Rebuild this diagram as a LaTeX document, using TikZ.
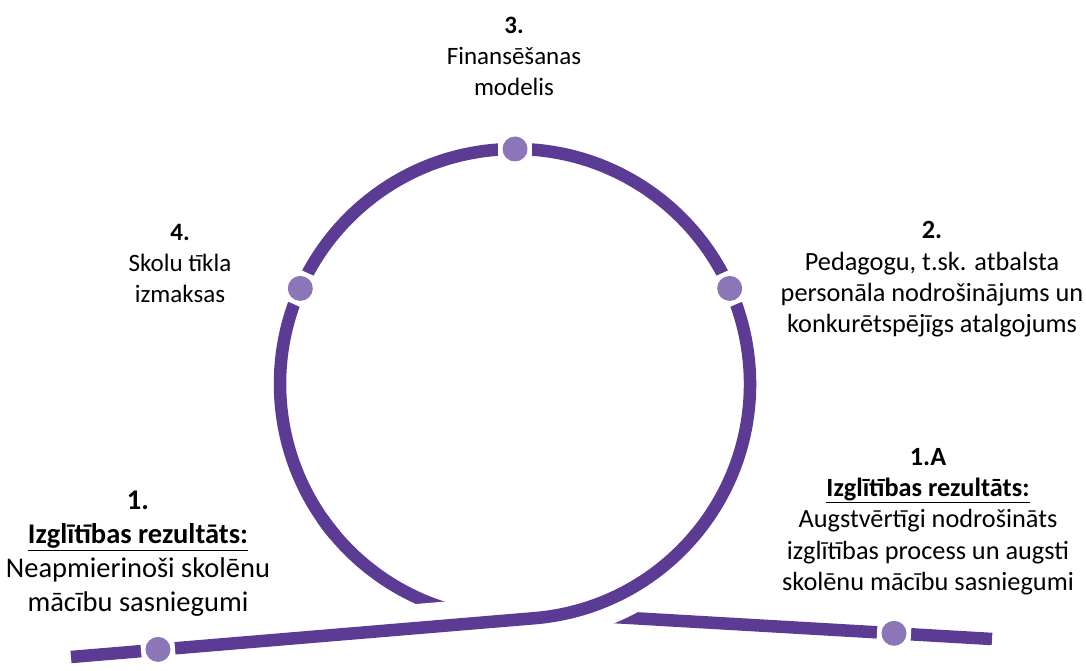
\documentclass[tikz,border=0pt]{standalone}
\usepackage{fontspec}
\setmainfont{Carlito}
\definecolor{loopcol}{HTML}{5C3B94}
\definecolor{dotcol}{HTML}{8C76B8}
\begin{document}
\begin{tikzpicture}[x=1pt,y=1pt,
  strand/.style={draw=loopcol, line width=12.5pt, line cap=butt},
  gapstroke/.style={draw=white, line width=48pt, line cap=butt},
  beadgap/.style={rectangle, fill=white, minimum width=34pt, minimum height=18pt, inner sep=0pt},
  bead/.style={circle, fill=dotcol, minimum size=25pt, inner sep=0pt},
  lbl/.style={align=center, font=\fontsize{25}{31}\selectfont, inner sep=0pt},
  lblmid/.style={align=center, font=\fontsize{26.3}{31.3}\selectfont, inner sep=0pt},
  lblbig/.style={align=center, font=\fontsize{28.5}{34}\selectfont, inner sep=0pt},
]
\fill[white] (0,0) rectangle (1086,670);
\useasboundingbox (0,0) rectangle (1086,670);

\coordinate (C) at (515,286);
\coordinate (startL) at (71,13);
\coordinate (T) at (535.5,51.9);
\coordinate (U0) at (322.5,151.2);
\coordinate (R0) at (613,53);
\coordinate (endR) at (992,31);
\coordinate (G0) at (300,32.2);

% under-strand: left side of the loop, passing under, becoming the right line
\draw[strand] (U0) arc[start angle=215, end angle=250, radius=235]
  .. controls (491,44.7) and (553,56.5) .. (R0) -- (endR);

% white gap around the over-strand near the crossing
\draw[gapstroke] (G0) -- (T) arc[start angle=275, end angle=320, radius=235];

% over-strand: left line and the loop
\draw[strand] (startL) -- (T) arc[start angle=275, end angle=580, radius=235];

% beads
\node[beadgap, rotate=0] (g3) at (515,521) {};
\node[bead] (d3) at (g3) {};
\node[beadgap, rotate=66] (g4) at (300.3,381.6) {};
\node[bead] (d4) at (g4) {};
\node[beadgap, rotate=-66] (g2) at (729.7,381.6) {};
\node[bead] (d2) at (g2) {};
\node[beadgap, rotate=4.8] (g1) at (158,20.6) {};
\node[bead] (d1) at (g1) {};
\node[beadgap, rotate=-3.3] (g1a) at (894,36.7) {};
\node[bead] (d1a) at (g1a) {};

% labels
\node[lbl] (t3) at (514,613.5) {\textbf{3.}\\Finansēšanas\\modelis};
\node[lbl] (t4) at (180,406.5) {\textbf{4.}\\Skolu tīkla\\izmaksas};
\node[lblmid] (t2) at (932,390.5) {\textbf{2.}\\Pedagogu, t.sk. atbalsta\\personāla nodrošinājums un\\konkurētspējīgs atalgojums};
\node[lblmid] (t1a) at (928,148.5) {\textbf{1.A}\\\underline{\textbf{Izglītības rezultāts:}}\\Augstvērtīgi nodrošināts\\izglītības process un augsti\\skolēnu mācību sasniegumi};
\node[lblbig] (t1) at (138,116) {\textbf{1.}\\\underline{\textbf{Izglītības rezultāts:}}\\Neapmierinoši skolēnu\\mācību sasniegumi};
\end{tikzpicture}
\end{document}
